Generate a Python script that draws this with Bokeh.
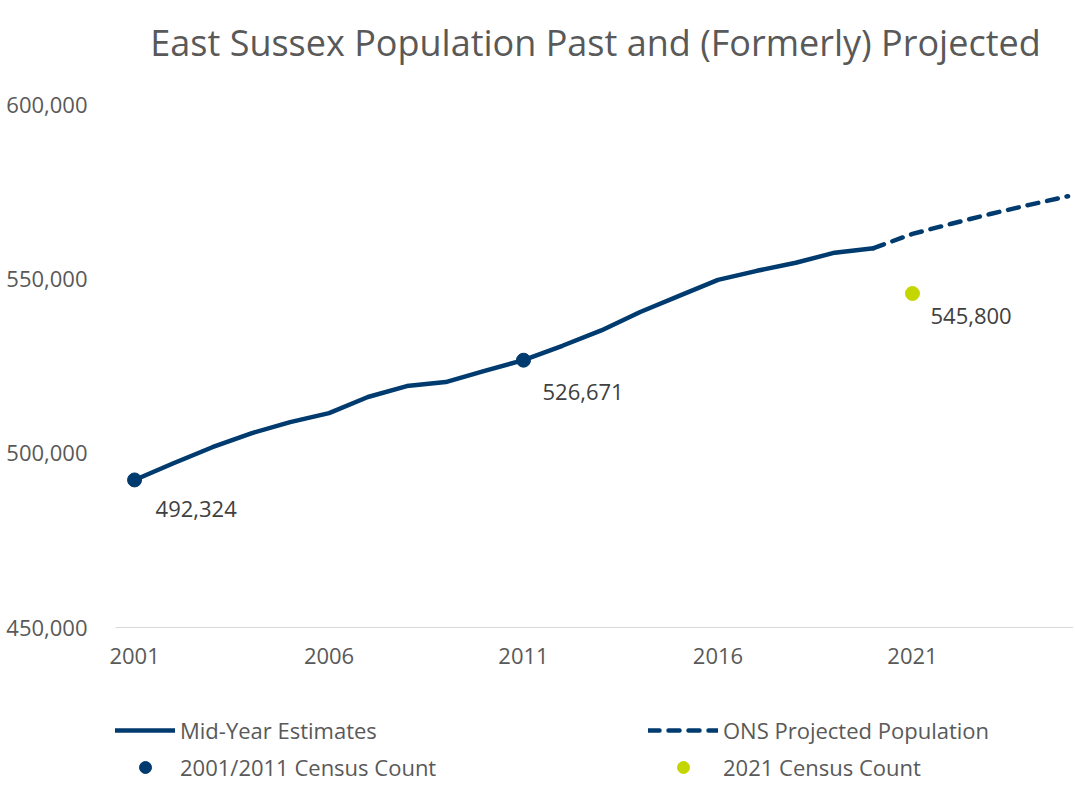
from bokeh.plotting import figure
from bokeh.layouts import column
from bokeh.models import (ColumnDataSource, FixedTicker, Legend, LegendItem, Label,
                          Range1d, NumeralTickFormatter)
from bokeh.core.properties import value
from bokeh.embed import file_html
from bokeh.resources import INLINE

# ---------------- data ----------------
mye_years = [2001, 2002, 2003, 2004, 2005, 2006, 2007, 2008, 2009, 2010,
             2011, 2012, 2013, 2014, 2015, 2016, 2017, 2018, 2019, 2020]
mye_pop = [492300, 497100, 501700, 505700, 508900, 511500, 516100, 519250, 520400, 523600,
           526700, 530800, 535200, 540500, 545100, 549700, 552300, 554600, 557500, 558800]

proj_years = [2020, 2021, 2022, 2023, 2024, 2025]
proj_pop = [558800, 562900, 565800, 568600, 571200, 573700]

census_years = [2001, 2011]
census_pop = [492324, 526671]
census_labels = ["492,324", "526,671"]

census21_years = [2021]
census21_pop = [545800]
census21_labels = ["545,800"]

x_ticks = [2001, 2006, 2011, 2016, 2021]
y_ticks = [450000, 500000, 550000, 600000]

title_text = "East Sussex Population Past and (Formerly) Projected"
legend_labels = ["Mid-Year Estimates", "2001/2011 Census Count",
                 "ONS Projected Population", "2021 Census Count"]

# ---------------- style ----------------
NAVY = "#003B6F"
GREEN = "#C4D600"
GREY = "#595959"
FONT = "Open Sans"
W = 1073

# main chart: frame starts at the top of the canvas so the title can sit inside it
p = figure(width=W, height=690, output_backend="svg", toolbar_location=None,
           x_range=Range1d(2000.51, 2025.14), y_range=Range1d(450000, 629830),
           min_border_left=115, min_border_right=0, min_border_top=0, min_border_bottom=63)
p.outline_line_color = None
p.grid.visible = False

p.xaxis.ticker = FixedTicker(ticks=x_ticks)
p.yaxis.ticker = FixedTicker(ticks=y_ticks)
p.yaxis.formatter = NumeralTickFormatter(format="0,0")
for ax in (p.xaxis, p.yaxis):
    ax.major_tick_line_color = None
    ax.minor_tick_line_color = None
    ax.major_label_text_font = FONT
    ax.major_label_text_font_size = "22px"
    ax.major_label_text_color = GREY
p.yaxis.axis_line_color = None
p.yaxis.major_label_standoff = 22
p.xaxis.axis_line_color = "#D9D9D9"
p.xaxis.axis_line_width = 1.2
p.xaxis.major_label_standoff = 14

src_mye = ColumnDataSource(dict(x=mye_years, y=mye_pop))
src_proj = ColumnDataSource(dict(x=proj_years, y=proj_pop))
src_c = ColumnDataSource(dict(x=census_years, y=census_pop, t=census_labels,
                              dx=[21, 19], dy=[29, 32]))
src_c21 = ColumnDataSource(dict(x=census21_years, y=census21_pop, t=census21_labels,
                                dx=[18], dy=[23]))

line_kw = dict(line_color=NAVY, line_width=4.5, line_join="round", line_cap="round")
dash_kw = dict(line_color=NAVY, line_width=4.5, line_join="round", line_cap="round",
               line_dash="11 9")
p.line("x", "y", source=src_mye, **line_kw)
p.line("x", "y", source=src_proj, **dash_kw)
p.scatter("x", "y", source=src_c, size=14, fill_color=NAVY, line_color=NAVY)
p.scatter("x", "y", source=src_c21, size=14, fill_color=GREEN, line_color=GREEN)

for s in (src_c, src_c21):
    p.text("x", "y", text="t", source=s, x_offset="dx", y_offset="dy",
           text_font=value(FONT), text_font_size="22px", text_color="#404040",
           text_align="left", text_baseline="alphabetic")

p.add_layout(Label(x=480, y=585, x_units="screen", y_units="screen", text=title_text,
                   text_font=FONT, text_font_size="36px", text_color=GREY,
                   text_align="center", text_baseline="alphabetic"))

# legend strip below the chart (its frame is aligned with the chart's frame)
lf = figure(width=W, height=93, output_backend="svg", toolbar_location=None,
            x_range=Range1d(0, 1), y_range=Range1d(0, 1), min_border=0)
lf.axis.visible = False
lf.grid.visible = False
lf.outline_line_color = None
# legend proxies draw the same series (they fall outside this strip's ranges)
g_mye = lf.line("x", "y", source=src_mye, **line_kw)
g_c = lf.scatter("x", "y", source=src_c, size=14, fill_color=NAVY, line_color=NAVY)
g_proj = lf.line("x", "y", source=src_proj, **dash_kw)
g_c21 = lf.scatter("x", "y", source=src_c21, size=14, fill_color=GREEN, line_color=GREEN)

def make_legend(items, loc, gw):
    return Legend(items=items, location=loc, orientation="vertical",
                  glyph_width=gw, glyph_height=30, label_height=30,
                  spacing=7, padding=0, margin=0, label_standoff=5,
                  label_text_font=FONT, label_text_font_size="22px",
                  label_text_color=GREY, border_line_color=None,
                  background_fill_alpha=0)

lf.add_layout(make_legend([LegendItem(label=legend_labels[0], renderers=[g_mye]),
                           LegendItem(label=legend_labels[1], renderers=[g_c])], (0, 1), 60))
lf.add_layout(make_legend([LegendItem(label=legend_labels[2], renderers=[g_proj]),
                           LegendItem(label=legend_labels[3], renderers=[g_c21])], (533, 1), 70))

open("out.html", "w").write(file_html(column(p, lf), INLINE))
